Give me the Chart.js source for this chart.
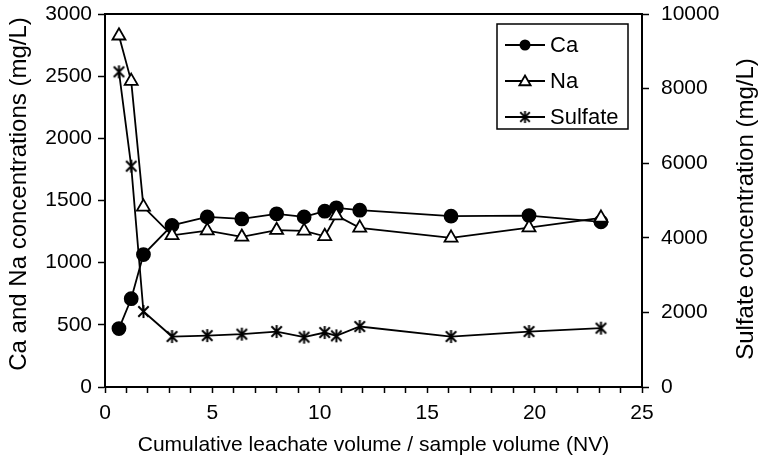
<!DOCTYPE html>
<html lang="en">
  <head>
    <meta charset="UTF-8" />
    <title>Leachate concentrations</title>
    <script src="https://cdn.jsdelivr.net/npm/chart.js"></script>
    <style>
      body { margin: 0; background: #fff; }
      #chart { display: block; }
    </style>
  </head>
  <body>
    <canvas id="chart" width="760" height="458"></canvas>
    <script>
      // cumulative leachate volume / sample volume (NV)
      const nv = [0.65, 1.22, 1.79, 3.12, 4.76, 6.37, 7.99, 9.27, 10.23, 10.77, 11.86, 16.11, 19.74, 23.09];
      // concentrations, mg/L
      const ca = [470, 710, 1065, 1300, 1368, 1352, 1393, 1368, 1414, 1441, 1422, 1374, 1379, 1328];
      const na = [2825, 2460, 1449, 1220, 1258, 1207, 1261, 1256, 1212, 1379, 1280, 1199, 1282, 1360];
      const sulfate = [8450, 5920, 2024, 1353, 1379, 1416, 1487, 1336, 1460, 1371, 1621, 1353, 1487, 1577];

      const FONT = "'Liberation Sans', Arial, sans-serif";

      // asterisk marker for sulfate
      function makeStar(size) {
        const c = document.createElement("canvas");
        c.width = c.height = size;
        const g = c.getContext("2d");
        const m = size / 2;
        const r = size / 2 - 1;
        g.strokeStyle = "#000";
        g.lineWidth = 2;
        g.beginPath();
        g.moveTo(m - r * 0.8, m - r * 0.8);
        g.lineTo(m + r * 0.8, m + r * 0.8);
        g.moveTo(m + r * 0.8, m - r * 0.8);
        g.lineTo(m - r * 0.8, m + r * 0.8);
        g.moveTo(m, m - r);
        g.lineTo(m, m + r);
        g.stroke();
        return c;
      }
      const star = makeStar(15);

      function pts(ys) {
        return nv.map((x, i) => ({ x: x, y: ys[i] }));
      }

      function sideTitle(ctx, text, x, y) {
        ctx.save();
        ctx.translate(x, y);
        ctx.rotate(-Math.PI / 2);
        ctx.textAlign = "center";
        ctx.textBaseline = "middle";
        ctx.font = "24px " + FONT;
        ctx.fillStyle = "#000";
        ctx.fillText(text, 0, 0);
        ctx.restore();
      }

      // top frame line, legend box and both axis titles (reading upwards)
      const extras = {
        id: "extras",
        afterDraw(chart) {
          const ctx = chart.ctx;
          const a = chart.chartArea;
          ctx.save();
          ctx.strokeStyle = "#000";
          ctx.lineWidth = 2;
          ctx.beginPath();
          ctx.moveTo(a.left - 1, a.top);
          ctx.lineTo(a.right + 1, a.top);
          ctx.stroke();

          // legend
          const bx = 497, by = 24, bw = 131, bh = 105;
          ctx.lineWidth = 1.5;
          ctx.strokeRect(bx, by, bw, bh);
          const rows = [45, 81, 117];
          ctx.font = "22px " + FONT;
          ctx.textBaseline = "middle";
          ctx.fillStyle = "#000";
          chart.data.datasets.forEach((ds, i) => {
            const y = rows[i];
            ctx.lineWidth = 1.8;
            ctx.beginPath();
            ctx.moveTo(505, y);
            ctx.lineTo(545, y);
            ctx.stroke();
            const mx = 525;
            if (ds.pointStyle === "circle") {
              ctx.beginPath();
              ctx.arc(mx, y, 5.5, 0, Math.PI * 2);
              ctx.fill();
            } else if (ds.pointStyle === "triangle") {
              const r = 6.5;
              ctx.beginPath();
              for (let k = 0; k < 3; k++) {
                const ang = k * 2 * Math.PI / 3;
                const px = mx + Math.sin(ang) * r;
                const py = y - Math.cos(ang) * r + 1;
                if (k === 0) ctx.moveTo(px, py); else ctx.lineTo(px, py);
              }
              ctx.closePath();
              ctx.fillStyle = "#fff";
              ctx.fill();
              ctx.stroke();
              ctx.fillStyle = "#000";
            } else {
              ctx.drawImage(ds.pointStyle, mx - 7, y - 7, 14, 14);
            }
            ctx.fillText(ds.label, 550, y + 1);
          });
          ctx.restore();

          sideTitle(ctx, "Ca and Na concentrations (mg/L)", 19, 194);
          sideTitle(ctx, "Sulfate concentration (mg/L)", 746, 209);
        },
      };

      const axisGrid = {
        drawOnChartArea: false,
        drawTicks: true,
        color: "#000",
        tickLength: 7,
        tickWidth: 1.5,
      };

      const plain = (v) => String(v);

      // fixed axis sizes so the plot area sits at 105..642 x 14..387
      function fixWidth(w) {
        return (s) => {
          s.width = w;
          s.paddingTop = 0;
          s.paddingBottom = 0;
        };
      }

      new Chart(document.getElementById("chart"), {
        type: "scatter",
        data: {
          datasets: [
            {
              label: "Ca",
              data: pts(ca),
              yAxisID: "y",
              showLine: true,
              borderColor: "#000",
              borderWidth: 1.8,
              pointStyle: "circle",
              pointRadius: 6.5,
              pointBackgroundColor: "#000",
              pointBorderColor: "#000",
              order: 2,
            },
            {
              label: "Na",
              data: pts(na),
              yAxisID: "y",
              showLine: true,
              borderColor: "#000",
              borderWidth: 1.8,
              pointStyle: "triangle",
              pointRadius: 7.5,
              pointBackgroundColor: "#fff",
              pointBorderColor: "#000",
              pointBorderWidth: 1.8,
              order: 1,
            },
            {
              label: "Sulfate",
              data: pts(sulfate),
              yAxisID: "y2",
              showLine: true,
              borderColor: "#000",
              borderWidth: 1.8,
              pointStyle: star,
              order: 3,
            },
          ],
        },
        options: {
          responsive: false,
          animation: false,
          devicePixelRatio: 1,
          layout: { padding: { top: 14, left: 0, right: 0, bottom: 0 } },
          plugins: { legend: { display: false }, tooltip: { enabled: false } },
          scales: {
            x: {
              type: "linear",
              position: "bottom",
              min: 0,
              max: 25,
              afterFit: (s) => {
                s.height = 71;
                s.paddingLeft = 0;
                s.paddingRight = 0;
              },
              ticks: {
                stepSize: 1,
                autoSkip: false,
                maxRotation: 0,
                color: "#000",
                font: { family: FONT, size: 21 },
                padding: 8,
                callback: (v) => (v % 5 === 0 ? String(v) : ""),
              },
              grid: Object.assign({}, axisGrid, { tickLength: 6 }),
              border: { color: "#000", width: 2 },
              title: {
                display: true,
                text: "Cumulative leachate volume / sample volume (NV)",
                color: "#000",
                font: { family: FONT, size: 21 },
                padding: { top: 0, bottom: 0 },
              },
            },
            y: {
              position: "left",
              min: 0,
              max: 3000,
              afterFit: fixWidth(105),
              ticks: {
                stepSize: 500,
                color: "#000",
                font: { family: FONT, size: 21 },
                padding: 6,
                callback: plain,
              },
              grid: axisGrid,
              border: { color: "#000", width: 2 },
            },
            y2: {
              position: "right",
              min: 0,
              max: 10000,
              afterFit: fixWidth(118),
              ticks: {
                stepSize: 2000,
                color: "#000",
                font: { family: FONT, size: 21 },
                padding: 12,
                callback: plain,
              },
              grid: axisGrid,
              border: { color: "#000", width: 2 },
            },
          },
        },
        plugins: [extras],
      });
    </script>
  </body>
</html>
